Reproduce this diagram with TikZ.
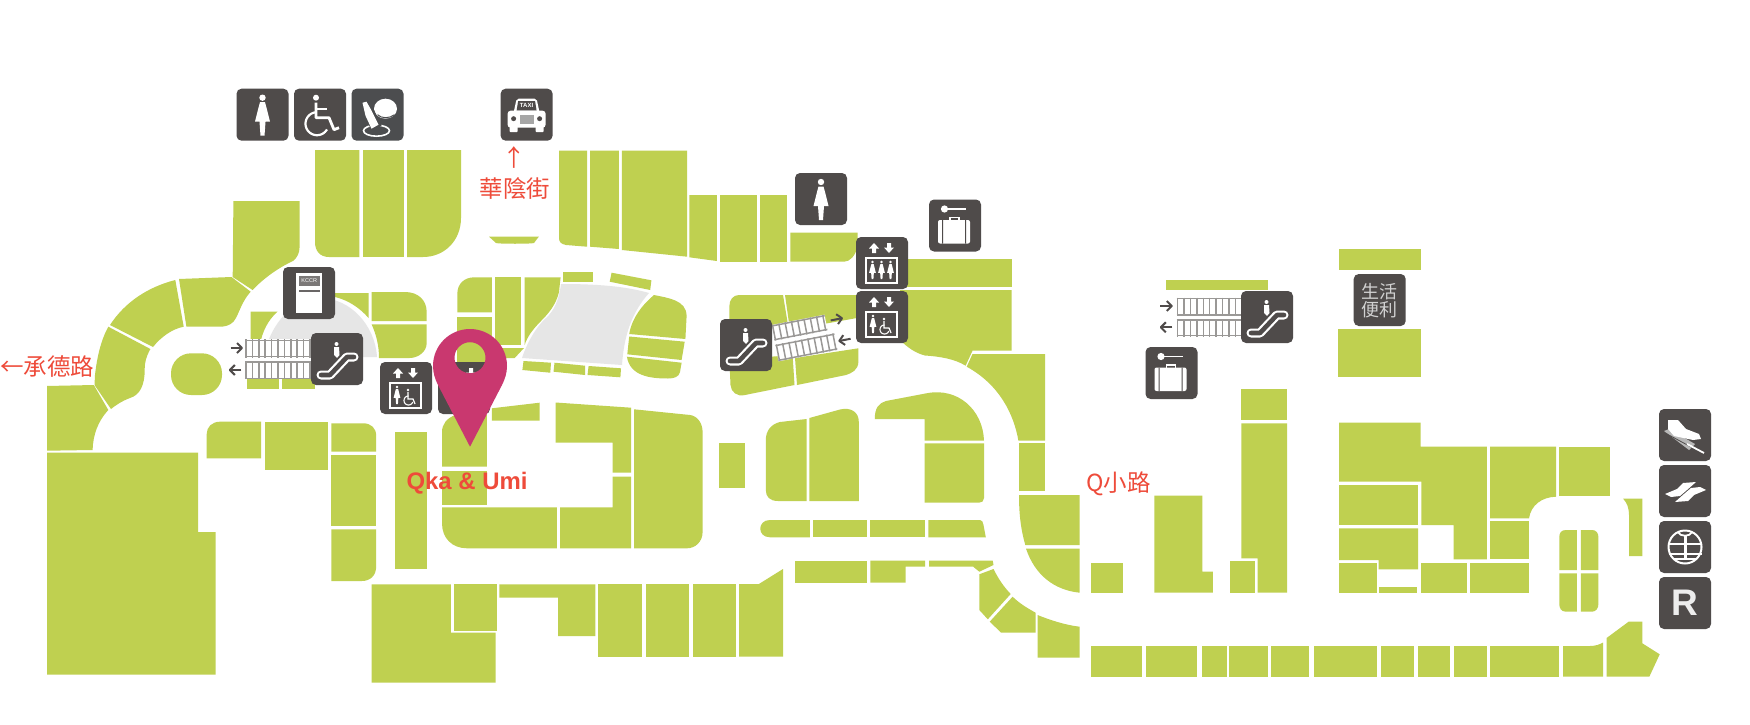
\documentclass[tikz,border=0pt]{standalone}
\usepackage{fontspec}
\setmainfont{Liberation Sans}
\newfontfamily\cjk{Noto Sans CJK TC}
\definecolor{shopc}{HTML}{BFD050}
\definecolor{iconc}{HTML}{4F4B4A}
\definecolor{iconb}{HTML}{4C4D4F}
\definecolor{voidc}{HTML}{E6E6E6}
\definecolor{pinc}{HTML}{C9386F}
\definecolor{redt}{HTML}{EE4B3A}
\definecolor{railc}{HTML}{9A9896}
\tikzset{
  shop/.style={fill=shopc},
  voidarea/.style={fill=voidc},
  iconbox/.style={fill=iconc,rounded corners=5pt},
  glyph/.style={fill=white},
  glyphline/.style={draw=white,line width=2pt,fill=none},
  railline/.style={draw=railc,line width=1.5pt},
  flowarrow/.style={draw=iconc,line width=2pt},
  streetlabel/.style={text=redt,font=\cjk\fontsize{23.5}{26}\selectfont,inner sep=0pt},
}
% local icon frame is 52 x 52
\newcommand{\boxat}[3][iconc]{\begin{scope}[shift={(#2,#3)}]\fill[iconbox,fill=#1] (0,0) rectangle (52,52);\end{scope}}
\newcommand{\womanglyph}{%
  \fill[glyph] (0,0) circle [radius=3.2];
  \fill[glyph] (-2.5,4.5) -- (2.5,4.5) -- (4,10) -- (7.5,24) -- (3,24) -- (2,38) -- (-2,38) -- (-3,24) -- (-7.5,24) -- (-4,10) -- cycle;}
\newcommand{\liftarrows}{%
  \fill[glyph] (18,6) -- (23,11.5) -- (20,11.5) -- (20,16) -- (16,16) -- (16,11.5) -- (13,11.5) -- cycle;
  \fill[glyph] (33,16) -- (38,10.5) -- (35,10.5) -- (35,6) -- (31,6) -- (31,10.5) -- (28,10.5) -- cycle;}
\newcommand{\liftframe}{\draw[glyphline] (10,21) rectangle (41,46);}
\newcommand{\wheelmini}{%
  \fill[glyph] (28,28) circle [radius=1.4];
  \draw[white,line width=1.2pt] (28,30) -- (28,37) -- (33,37) -- (35,42);
  \draw[white,line width=1.1pt] plot[domain=20:270,samples=20] ({28.5+4.5*cos(\x)},{38.5+4.5*sin(\x)});}
\newcommand{\escglyph}{%
  \fill[glyph] (25.5,11) circle [radius=2];
  \fill[glyph] (23,14) -- (28,14) -- (28.5,22) -- (26,25) -- (23,22) -- cycle;
  \draw[white,line width=9pt,line cap=round,line join=round] (10,42) -- (19,42) -- (36,24) -- (43,24);
  \draw[iconc,line width=4.6pt,line cap=round,line join=round] (10,42) -- (19,42) -- (36,24) -- (43,24);}
\newcommand{\bagglyph}{%
  \fill[glyph] (15.5,9.5) circle [radius=3.6];
  \draw[white,line width=1.8pt] (18,9.5) -- (37,9.5);
  \draw[white,line width=1.5pt] (21,21) -- (21,18) -- (30,18) -- (30,21);
  \fill[glyph,rounded corners=2pt] (9,20.5) rectangle (41,44);
  \fill[iconc] (13,20.5) rectangle (14.2,44) (36,20.5) rectangle (37.2,44);}
\newcommand{\stairrow}[4]{% x y length height
  \fill[white] (#1,#2) rectangle ({#1+#3},{#2+#4});
  \pgfmathtruncatemacro{\barcount}{#3/6.4}
  \foreach \k in {0,...,\barcount} \draw[railline] ({#1+1+6.4*\k},#2) -- ({#1+1+6.4*\k},{#2+#4});
  \draw[railline] (#1,{#2+1}) -- ({#1+#3},{#2+1});
  \draw[railline] (#1,{#2+#4-1}) -- ({#1+#3},{#2+#4-1});}
\newcommand{\arrowright}[2]{\draw[flowarrow] ({#1-6},#2) -- ({#1+5},#2); \draw[flowarrow,line join=round] ({#1+0.5},{#2-5}) -- ({#1+5.5},#2) -- ({#1+0.5},{#2+5});}
\newcommand{\arrowleft}[2]{\draw[flowarrow] ({#1+6},#2) -- ({#1-5},#2); \draw[flowarrow,line join=round] ({#1-0.5},{#2-5}) -- ({#1-5.5},#2) -- ({#1-0.5},{#2+5});}
\begin{document}
\begin{tikzpicture}[x=1pt,y=-1pt]
\useasboundingbox (0,0) rectangle (1750,725);
\fill[white] (0,0) rectangle (1750,725);

% ---- void areas
\fill[voidarea] (264,357) .. controls (270,322) and (295,298) .. (320,298) .. controls (350,298) and (375,325) .. (377,357) -- cycle;
\fill[voidarea] (561,284) .. controls (595,284) and (625,286) .. (649,293) .. controls (632,312) and (624,335) .. (622,365) -- (522,358) .. controls (528,340) and (538,325) .. (546,318) .. controls (554,311) and (559,300) .. (561,284) -- cycle;

% ---- west wing
\fill[shop] (233.4,201) -- (299.6,201) -- (299.6,247) .. controls (299.6,253) and (297,258) .. (293,261) .. controls (278,268) and (264,278) .. (252.6,290) -- (232.7,277) -- cycle;
\fill[shop] (315,150) -- (359.4,150) -- (359.4,257) -- (329,257) .. controls (320,257) and (315,251) .. (315,242) -- cycle;
\fill[shop] (362.8,150) rectangle (404,257);
\fill[shop] (407,150) -- (461,150) -- (461,218) .. controls (461,240) and (445,257) .. (423,257) -- (407,257) -- cycle;
\fill[shop] (489,236.7) -- (538.8,236.7) -- (534,243) .. controls (532,244) and (498,244) .. (496,243) -- cycle;
\fill[shop] (179,279) -- (231.5,277) -- (250.7,291.7) .. controls (243,300) and (240,310) .. (236,318) .. controls (233,324) and (228,326) .. (222,326.7) -- (186.4,326.7) -- cycle;
\fill[shop] (175.3,280) -- (183.7,326.7) .. controls (172,329) and (161,337) .. (153,347) -- (110,325) .. controls (125,302) and (148,287) .. (175.3,280) -- cycle;
\fill[shop] (108.3,326.7) -- (150.4,349) .. controls (146,357) and (144.7,362) .. (144.7,370) .. controls (144.7,385) and (140,395) .. (130,398) .. controls (122,401) and (116,405) .. (111,409) -- (94.5,385) -- (95,375) .. controls (97,357) and (101,340) .. (108.3,326.7) -- cycle;
\fill[shop] (47,386) -- (93.8,385) -- (108.3,410) .. controls (98,421) and (93,435) .. (92.6,450) -- (47,450.7) -- cycle;
\fill[shop,rounded corners=20pt] (171,353.3) rectangle (222,395);
\fill[shop] (47,452.7) -- (198,452.7) -- (198,532) -- (215.5,532) -- (215.5,674.7) -- (47,674.7) -- cycle;
\fill[shop] (250.7,311.7) -- (277.5,311.7) .. controls (268,320) and (262,332) .. (260,345) -- (250.7,345) -- cycle;
\fill[shop] (246.8,375) rectangle (279,389.3);
\fill[shop] (282.4,375) rectangle (314.6,389.3);
\fill[shop] (335,293) -- (368.5,293) -- (368.5,318) .. controls (360,308) and (348,300) .. (335,297) -- cycle;
\fill[shop] (371.6,292) -- (405,292) .. controls (418,292) and (426.7,300) .. (426.7,312) -- (426.7,321) -- (371.6,321) -- cycle;
\fill[shop] (371.6,324.3) -- (426.7,324.3) -- (426.7,343) .. controls (426.7,352) and (418,358) .. (409.5,358) -- (379,358) .. controls (379,345) and (376,334) .. (371.6,324.3) -- cycle;
\fill[shop] (491.8,277.3) -- (491.8,312.3) -- (457.3,312.3) -- (457.3,294) .. controls (457.3,284) and (464,277.3) .. (474.5,277.3) -- cycle;
\fill[shop] (457.3,316.7) rectangle (491.8,363);
\fill[shop] (494.8,277.3) rectangle (521.2,345);
\fill[shop] (524.7,277.3) -- (560.6,277.3) -- (559,292) .. controls (556,305) and (548,314) .. (541,321) .. controls (533,329) and (527,337) .. (524.7,345) -- cycle;
\fill[shop] (494.8,348) -- (524,348) -- (514.7,358) -- (494.8,358) -- cycle;
\fill[shop] (563,271.7) rectangle (592.8,282.3);
\fill[shop] (611.6,272.7) -- (651.4,280.3) -- (650.2,290) -- (609.7,281.7) -- cycle;
\fill[shop] (523.5,361) -- (551,362.7) -- (550.3,372.7) -- (522.4,370) -- cycle;
\fill[shop] (554.5,362.7) -- (585,365.7) -- (585,375) -- (553.5,371.7) -- cycle;
\fill[shop] (588.6,366) -- (621,368.3) -- (620.4,377.3) -- (587.5,375) -- cycle;
\fill[shop] (654,295) .. controls (668,298) and (686.6,300) .. (686.6,316) -- (685.4,339) -- (629.2,334) .. controls (632,318) and (642,305) .. (654,295) -- cycle;
\fill[shop] (629.2,336.5) -- (684.7,341.7) -- (681.6,360) -- (627.3,354.3) -- cycle;
\fill[shop] (626.9,356.7) -- (681.6,362.7) -- (680,372) .. controls (679,377) and (674,378.5) .. (668,378.5) .. controls (650,378.5) and (630,376) .. (626.9,356.7) -- cycle;

% ---- lower west
\fill[shop] (206.7,458.3) -- (261,458.3) -- (261,421.7) -- (220,421.7) .. controls (212,421.7) and (206.7,427) .. (206.7,434) -- cycle;
\fill[shop] (264.8,421.7) rectangle (328.4,470.3);
\fill[shop] (331.4,423.3) -- (363,423.3) .. controls (371,423.3) and (376.2,428) .. (376.2,436) -- (376.2,451.7) -- (331.4,451.7) -- cycle;
\fill[shop] (331.4,455.3) rectangle (376.2,526);
\fill[shop] (331.4,529.3) -- (376.2,529.3) -- (376.2,566) .. controls (376.2,576) and (370,581) .. (361.7,581) -- (331.4,581) -- cycle;
\fill[shop] (395,431.7) rectangle (426.7,569);
\fill[shop] (442,466.7) -- (486.8,466.7) -- (486.8,415) -- (455.4,415) .. controls (447,418) and (442,424) .. (442,432) -- cycle;
\fill[shop] (442,470.7) rectangle (486.8,505);
\fill[shop] (442,507.3) -- (556.8,507.3) -- (556.8,548.3) -- (467,548.3) .. controls (452,548.3) and (442,538) .. (442,523.3) -- cycle;
\fill[shop] (491.8,408.3) -- (539.6,402.7) -- (539.6,420.7) -- (491.8,420.7) -- cycle;
\fill[shop] (555.5,402.5) -- (631,407.7) -- (631,472.7) -- (612.7,472.7) -- (612.7,442.7) -- (555.5,442.7) -- cycle;
\fill[shop] (612.7,476.7) -- (631,476.7) -- (631,548.3) -- (560,548.3) -- (560,507.3) -- (612.7,507.3) -- cycle;
\fill[shop] (634,409.3) -- (690,415) .. controls (698,416) and (702.6,424) .. (702.6,432) -- (702.6,532) .. controls (702.6,542) and (695,548.3) .. (687,548.3) -- (634,548.3) -- cycle;
\fill[shop] (719,443.3) rectangle (744.7,488.3);

% ---- bottom centre-west
\fill[shop] (371.6,584.3) -- (450.8,584.3) -- (450.8,632.7) -- (495.6,632.7) -- (495.6,682.7) -- (371.6,682.7) -- cycle;
\fill[shop] (453.5,584.3) rectangle (496.7,630.7);
\fill[shop] (499.4,584.3) -- (595.3,584.3) -- (595.3,636) -- (558,636) -- (558,597.7) -- (499.4,597.7) -- cycle;
\fill[shop] (598.2,584) rectangle (641.8,656.7);
\fill[shop] (646,584) rectangle (688.5,656.7);
\fill[shop] (692.7,584) rectangle (735.6,656.7);
\fill[shop] (739,584) -- (758.9,584) -- (783,569) -- (783,656.7) -- (739,656.7) -- cycle;

% ---- top centre
\fill[shop] (559,150.7) -- (587,150.7) -- (587,246.7) -- (566,245) .. controls (561,244) and (559,242) .. (559,238) -- cycle;
\fill[shop] (590,150.7) -- (618.8,150.7) -- (618.8,249) -- (590,246.7) -- cycle;
\fill[shop] (621.9,150.7) -- (687,150.7) -- (687,256.7) -- (621.9,250) -- cycle;
\fill[shop] (689.3,195) -- (716.8,195) -- (716.8,261) -- (689.3,257.3) -- cycle;
\fill[shop] (719.5,195) rectangle (756.6,261.7);
\fill[shop] (759.7,195) rectangle (787.2,261.7);
\fill[shop] (790.3,232.7) -- (857.6,232.7) -- (857.6,247) .. controls (855,256) and (850,261.7) .. (844,261.7) -- (790.3,261.7) -- cycle;
\fill[shop] (900,259) -- (1011.5,259) -- (1011.5,287.3) -- (900,287.3) -- cycle;
\fill[shop] (900,290) -- (1011.5,290) -- (1011.5,350.7) -- (972.5,350.7) -- (965.6,365.7) .. controls (955,359) and (940,356.5) .. (925,355.5) .. controls (915,353) and (907,347) .. (900,340) -- cycle;
\fill[shop] (972.5,354) -- (1045,354) -- (1045,440.7) -- (1018.4,440.7) .. controls (1014,415) and (1000,385) .. (966.7,366.7) -- cycle;

% ---- escalator block
\fill[shop] (739,295) -- (783,295) -- (788,325) -- (729.4,338) -- (729.4,306) .. controls (729.4,300) and (733,295) .. (739,295) -- cycle;
\fill[shop] (785,295) -- (857,295) -- (857,318) -- (790,330) -- cycle;
\fill[shop] (729.4,360) -- (792.6,355) -- (794.5,385) -- (745,395) .. controls (737,397) and (731,392) .. (730.5,385) -- cycle;
\fill[shop] (795,358) -- (858.4,348.3) -- (858.4,362) .. controls (858,370) and (852,373) .. (846,375) -- (797,385) -- cycle;

% ---- centre east
\fill[shop] (806.7,419) -- (780,422) .. controls (771,424) and (765.8,431) .. (765.8,440) -- (765.8,490) .. controls (765.8,497) and (770,501) .. (778,501) -- (806.7,501) -- cycle;
\fill[shop] (809.4,418) -- (840,409.5) .. controls (851,407) and (858.8,412) .. (858.8,422) -- (858.8,501) -- (809.4,501) -- cycle;
\fill[shop] (874.9,419) .. controls (874.5,408) and (879,403) .. (886,401) -- (926.5,393.3) .. controls (958,387) and (983,410) .. (984,440.7) -- (924.6,440.7) -- (924.6,419) -- cycle;
\fill[shop] (924.6,443.3) -- (984,443.3) -- (984,498) .. controls (984,501) and (982,502.7) .. (979,502.7) -- (924.6,502.7) -- cycle;
\fill[shop] (809.8,520) -- (770,520) .. controls (757,520) and (757,537.3) .. (770,537.3) -- (809.8,537.3) -- cycle;
\fill[shop] (812.9,520) rectangle (867.2,537.3);
\fill[shop] (870.3,520) rectangle (925,537.3);
\fill[shop] (928.4,520) -- (980,520) .. controls (982,520) and (983,522) .. (983.5,525) -- (985.8,537.3) -- (928.4,537.3) -- cycle;
\fill[shop] (794.5,560.7) rectangle (867.2,582.7);
\fill[shop] (870.3,560.7) -- (925,560.7) -- (925,566.7) -- (905.5,566.7) -- (905.5,582.7) -- (870.3,582.7) -- cycle;
\fill[shop] (929.2,560.7) -- (992.7,560.7) -- (993.5,565) -- (979.3,571.7) -- (973.2,566.7) -- (929.2,566.7) -- cycle;
\fill[shop] (993.5,569) -- (979.3,574.3) -- (979.3,610) -- (987.8,619.3) -- (1010.7,594) .. controls (1003,586) and (998,578) .. (993.5,569) -- cycle;
\fill[shop] (1012.6,596.7) .. controls (1019,603) and (1027,608) .. (1035.6,612.7) -- (1035.6,632.7) -- (1001.2,632.7) -- (989.7,621.7) -- cycle;
\fill[shop] (1037.5,615) .. controls (1050,620) and (1065,625) .. (1079.6,626.7) -- (1079.6,657.7) -- (1037.5,657.7) -- cycle;
\fill[shop] (1019,443.3) rectangle (1045,491.3);
\fill[shop] (1019,495) -- (1079.6,495) -- (1079.6,545) -- (1025.3,545) .. controls (1021,530) and (1019,515) .. (1019,495) -- cycle;
\fill[shop] (1026,548.7) -- (1079.6,548.7) -- (1079.6,592.7) .. controls (1054,590) and (1035,575) .. (1026,548.7) -- cycle;
\fill[shop] (1091,562.7) rectangle (1122.8,592.7);

% ---- east
\fill[shop] (1166.3,280) rectangle (1268.3,290);
\fill[shop] (1339.2,249) rectangle (1420.5,270);
\fill[shop] (1337.6,329.3) rectangle (1421.3,376.7);
\fill[shop] (1241.4,389) rectangle (1287,420);
\fill[shop] (1241.4,423.3) -- (1287,423.3) -- (1287,592.7) -- (1257.5,592.7) -- (1257.5,558.3) -- (1241.4,558.3) -- cycle;
\fill[shop] (1230.2,560.7) rectangle (1254.6,592.7);
\fill[shop] (1154.3,495.7) -- (1202.4,495.7) -- (1202.4,571.7) -- (1212.8,571.7) -- (1212.8,592.7) -- (1154.3,592.7) -- cycle;
\fill[shop] (1339.2,422.7) -- (1420.5,422.7) -- (1420.5,446.7) -- (1486.8,446.7) -- (1486.8,559.3) -- (1453.6,559.3) -- (1453.6,525) -- (1421.3,525) -- (1421.3,481.7) -- (1339.2,481.7) -- cycle;
\fill[shop] (1339.2,485) rectangle (1418,525);
\fill[shop] (1339.2,528.3) -- (1418,528.3) -- (1418,569.3) -- (1378.6,569.3) -- (1378.6,560) -- (1339.2,560) -- cycle;
\fill[shop] (1339.2,562.7) rectangle (1376.5,592.7);
\fill[shop] (1378.6,587.3) rectangle (1417.2,592.7);
\fill[shop] (1420.5,562.7) rectangle (1467,592.7);
\fill[shop] (1470.2,562.7) rectangle (1529,592.7);
\fill[shop] (1490,446.7) -- (1556,446.7) -- (1556,496.7) .. controls (1542,497) and (1531,505) .. (1529,518.3) -- (1490,518.3) -- cycle;
\fill[shop] (1490,521) rectangle (1529,559.3);
\fill[shop] (1559.3,446.7) rectangle (1609.5,495.7);
\fill[shop] (1623.2,498.7) -- (1642.3,498.7) -- (1642.3,556) -- (1629,556) -- (1629,515) .. controls (1629,508) and (1627,503) .. (1623.2,498.7) -- cycle;
\fill[shop] (1576.8,530) -- (1566,530) .. controls (1561,530) and (1559.3,533) .. (1559.3,537) -- (1559.3,570) -- (1576.8,570) -- cycle;
\fill[shop] (1580.9,530) -- (1592,530) .. controls (1596,530) and (1598.4,533) .. (1598.4,537) -- (1598.4,570) -- (1580.9,570) -- cycle;
\fill[shop] (1559.3,573.3) -- (1576.8,573.3) -- (1576.8,611.7) -- (1566,611.7) .. controls (1561,611.7) and (1559.3,608) .. (1559.3,604) -- cycle;
\fill[shop] (1580.9,573.3) -- (1598.4,573.3) -- (1598.4,604) .. controls (1598.4,608) and (1596,611.7) .. (1592,611.7) -- (1580.9,611.7) -- cycle;
\foreach \xa/\xb in {1091/1141.5,1145.6/1197.4,1201.6/1226.5,1229.4/1268,1271.2/1309.4,1313.5/1377,1380.7/1413.8,1417.6/1450.3,1453.6/1486.8,1489.7/1559}
  \fill[shop] (\xa,646) rectangle (\xb,676.7);
\fill[shop] (1563,646) -- (1590,646) .. controls (1595,646) and (1600,644.5) .. (1603,642.5) -- (1603,676.7) -- (1563,676.7) -- cycle;
\fill[shop] (1606.6,638) -- (1628.6,621.7) -- (1642.3,621.7) -- (1642.3,643.3) -- (1659.7,654.3) -- (1649.3,676.7) -- (1606.6,676.7) -- cycle;

% ---- escalators (stairs)
\stairrow{245}{339.3}{66}{18.4}
\stairrow{245}{361}{66}{18.4}
\arrowright{236.5}{348}
\arrowleft{235.4}{370}
\stairrow{1176.7}{297.7}{65}{18.3}
\stairrow{1176.7}{319}{65}{17.7}
\arrowright{1166.3}{306}
\arrowleft{1166.3}{327.3}
\begin{scope}[shift={(771.5,325)},rotate=11]
  \stairrow{0}{0}{54}{16}
  \stairrow{0}{20}{60}{17}
  \arrowright{65}{6.8}
  \arrowleft{69}{28.6}
\end{scope}

% ---- icons
\boxat{236.5}{88.7}
\begin{scope}[shift={(236.5,88.7)}]\begin{scope}[shift={(26,9)}]\womanglyph\end{scope}\end{scope}
\boxat{294}{88.7}
\begin{scope}[shift={(294,88.7)}]
  \fill[glyph] (22,9) circle [radius=3];
  \draw[white,line width=2.8pt,line join=round] (22,14) -- (22,29) -- (35,29) -- (40,41) -- (45,39);
  \draw[white,line width=2pt] (22,20) -- (33,20);
  \draw[white,line width=2.2pt] plot[domain=30:265,samples=30] ({23+11.5*cos(\x)},{35+11.5*sin(\x)});
\end{scope}
\boxat[iconb]{351.5}{88.7}
\begin{scope}[shift={(351.5,88.7)}]
  \fill[white] (34,20) ellipse [x radius=11.5,y radius=10];
  \draw[iconb,line width=1pt] (26,26) .. controls (30,30) and (38,30) .. (43,26);
  \draw[white,line width=1.6pt] (25,42) ellipse [x radius=13,y radius=5.5];
  \fill[iconb] (9,12) -- (17,10) -- (30,37) -- (20,43) -- cycle;
  \fill[white] (11,14) -- (15,13) -- (19,20) -- (27,36) -- (20,40) -- (14,27) -- cycle;
\end{scope}
\boxat{500.6}{88.7}
\begin{scope}[shift={(500.6,88.7)}]
  \fill[glyph,rounded corners=2pt] (13,24) -- (16,10) -- (36,10) -- (39,24) -- cycle;
  \fill[iconc] (17.5,12.5) -- (34.5,12.5) -- (36,22) -- (16,22) -- cycle;
  \node[inner sep=0pt,text=white,font=\fontsize{6}{6}\selectfont\bfseries] (taxitext) at (26,17) {TAXI};
  \fill[glyph,rounded corners=3pt] (7,22) rectangle (45,39);
  \fill[glyph,rounded corners=1pt] (9,36) rectangle (17,43.5);
  \fill[glyph,rounded corners=1pt] (35,36) rectangle (43,43.5);
  \fill[iconc] (13,30) circle [radius=2.5] (39,30) circle [radius=2.5];
  \fill[gray!70] (19,26) rectangle (33,35);
\end{scope}
\boxat{283}{267}
\begin{scope}[shift={(283,267)}]
  \fill[white] (13,6) rectangle (39,46);
  \fill[iconc!75] (15.5,9) rectangle (37,19);
  \node[inner sep=0pt,text=white,font=\fontsize{5.5}{6}\selectfont] (doortext) at (26.2,14) {KCCR};
  \fill[iconc!85] (15.5,22.5) rectangle (37,24.5);
\end{scope}
\boxat{311}{333}
\begin{scope}[shift={(311,333)}]\escglyph\end{scope}
\boxat{380}{362}
\begin{scope}[shift={(380,362)}]
  \liftarrows\liftframe
  \begin{scope}[shift={(17,25)},scale=0.45]\womanglyph\end{scope}
  \wheelmini
\end{scope}
\boxat{438}{362}
\begin{scope}[shift={(438,362)}]\liftarrows\end{scope}
\boxat{795}{173}
\begin{scope}[shift={(795,173)}]\begin{scope}[shift={(26,9)}]\womanglyph\end{scope}\end{scope}
\boxat{929}{199.5}
\begin{scope}[shift={(929,199.5)}]\bagglyph\end{scope}
\boxat{856}{237}
\begin{scope}[shift={(856,237)}]
  \liftarrows\liftframe
  \foreach \px in {16.5,25.5,34.5} {\begin{scope}[shift={(\px,25)},scale=0.45]\womanglyph\end{scope}}
\end{scope}
\boxat{856}{291}
\begin{scope}[shift={(856,291)}]
  \liftarrows\liftframe
  \begin{scope}[shift={(17,25)},scale=0.45]\womanglyph\end{scope}
  \wheelmini
\end{scope}
\boxat{720}{319}
\begin{scope}[shift={(720,319)}]\escglyph\end{scope}
\boxat{1241}{291}
\begin{scope}[shift={(1241,291)}]\escglyph\end{scope}
\boxat{1145.5}{347}
\begin{scope}[shift={(1145.5,347)}]\bagglyph\end{scope}
\boxat{1353.7}{274}
\node[inner sep=0pt,text=white!82!black,font=\cjk\fontsize{18}{18.5}\selectfont,align=center] (conv) at (1379.7,300.5) {生活\\便利};
% rail icons
\boxat{1659}{409}
\begin{scope}[shift={(1659,409)}]
  \fill[white!72!black] (5,22) -- (10,20) -- (36,35) -- (30,41) -- cycle;
  \draw[iconc,line width=0.8pt] (7,24.5) -- (33,38.5);
  \fill[white] (9,11) -- (19,11) -- (27,20) -- (40,25) -- (42,30) -- (34,31) -- (15,27) -- (9,20) -- cycle;
  \draw[white,line width=1.8pt] (28,35) -- (45,44);
\end{scope}
\boxat{1659}{465}
\begin{scope}[shift={(1659,465)}]
  \fill[white] (6,29) -- (18,24) -- (24,18) -- (37,17) -- (28,25) -- (21,31) -- (12,32) -- cycle;
  \fill[white] (47,25) -- (35,30) -- (29,36) -- (16,37) -- (25,29) -- (32,23) -- (41,22) -- cycle;
\end{scope}
\boxat{1659}{521}
\begin{scope}[shift={(1659,521)}]
  \draw[white,line width=2pt] (26,26) circle [radius=16.5];
  \draw[white,line width=2pt] (9.5,23) -- (42.5,23) (9.5,33) -- (42.5,33);
  \fill[white] (24.5,15) rectangle (27.5,38);
  \draw[white,line width=1.8pt] (19,11) .. controls (21,16) and (31,16) .. (33,11);
  \draw[white,line width=1.8pt] (15,38) -- (37,38);
\end{scope}
\boxat{1659}{577}
\begin{scope}[shift={(1659,577)}]
  \node[inner sep=0pt,text=white!93!black,font=\fontsize{37}{37}\selectfont\bfseries] (rlabel) at (26,26) {R};
\end{scope}

% ---- pin
\fill[pinc,even odd rule] (470,446.7) -- (438,385) .. controls (435,379) and (433,373) .. (433,366) .. controls (433,345) and (450,329) .. (470,329) .. controls (490,329) and (507,345) .. (507,366) .. controls (507,373) and (505,379) .. (502,385) -- cycle (470,357.7) circle [radius=15.5];

% ---- labels
\node[streetlabel,anchor=west] (west) at (0,367) {←承德路};
\node[streetlabel] (uparrow) at (514,158) {↑};
\node[streetlabel] (north) at (515,189) {華陰街};
\node[streetlabel,anchor=west] (east) at (1086,484) {Q小路};
\node[inner sep=0pt,text=redt,font=\fontsize{23.9}{26}\selectfont\bfseries] (shopname) at (467,483.5) {Qka \& Umi};
\end{tikzpicture}
\end{document}
